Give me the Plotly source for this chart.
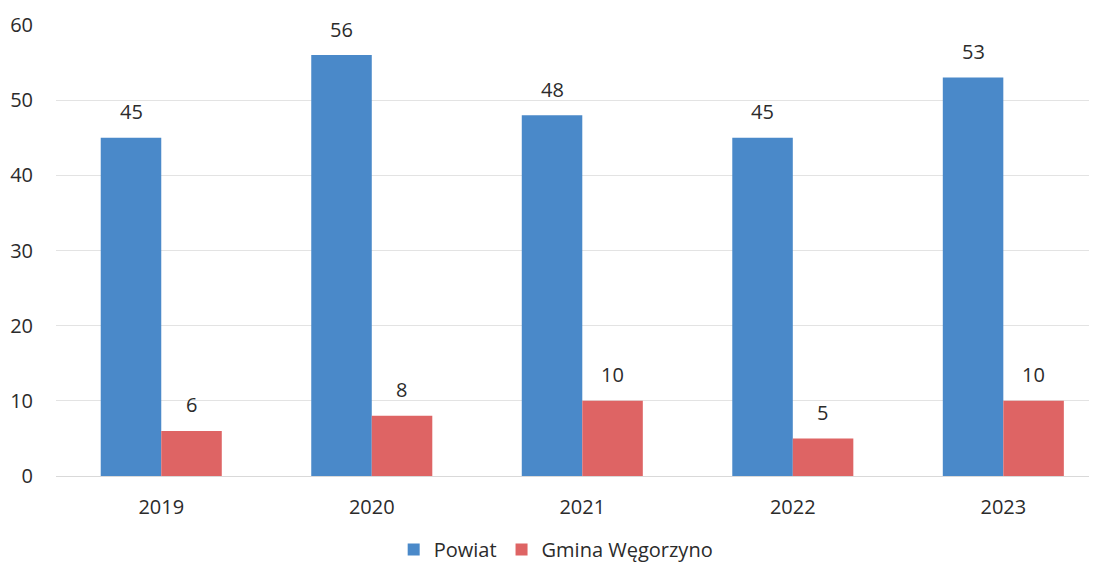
import plotly.graph_objects as go

years = ["2019", "2020", "2021", "2022", "2023"]
powiat = [45, 56, 48, 45, 53]
gmina = [6, 8, 10, 5, 10]

font_family = "Open Sans, Liberation Sans, sans-serif"
txt_color = "#2b2b2b"

fig = go.Figure()
fig.add_trace(go.Bar(
    x=years, y=powiat, name="Powiat",
    marker=dict(color="#4a89c9", line=dict(width=0)),
))
fig.add_trace(go.Bar(
    x=years, y=gmina, name="Gmina Węgorzyno",
    marker=dict(color="#de6464", line=dict(width=0)),
))

annotations = []
for i, v in enumerate(powiat):
    annotations.append(dict(x=i, y=v, text=str(v), showarrow=False, xref="x", yref="y",
                            xshift=-30, yshift=26, yanchor="middle", xanchor="center",
                            font=dict(size=20, color=txt_color, family=font_family)))
for i, v in enumerate(gmina):
    annotations.append(dict(x=i, y=v, text=str(v), showarrow=False, xref="x", yref="y",
                            xshift=30, yshift=26, yanchor="middle", xanchor="center",
                            font=dict(size=20, color=txt_color, family=font_family)))

fig.update_layout(
    width=1089, height=559,
    margin=dict(l=48, r=0, t=17, b=91, autoexpand=False),
    paper_bgcolor="white", plot_bgcolor="white",
    barmode="group", bargap=0.425, bargroupgap=0,
    font=dict(family=font_family, size=20, color=txt_color),
    showlegend=True,
    legend=dict(orientation="h", x=0.48, xanchor="center", y=-0.163, yanchor="middle",
                font=dict(size=20, color=txt_color), itemsizing="constant",
                tracegroupgap=0, itemwidth=30),
    annotations=annotations,
    xaxis=dict(type="category", range=[-0.5, 4.445], showline=False, ticks="", showgrid=False,
               automargin=False, ticklabelstandoff=17,
               tickfont=dict(size=20, color=txt_color)),
    yaxis=dict(range=[0, 60], dtick=10, showgrid=True, gridcolor="#e3e3e3", gridwidth=1,
               zeroline=True, zerolinecolor="#d9d9d9", zerolinewidth=1,
               showline=False, ticks="", ticklabelstandoff=22, automargin=False,
               tickfont=dict(size=20, color=txt_color)),
)

fig.write_html("out.html")
